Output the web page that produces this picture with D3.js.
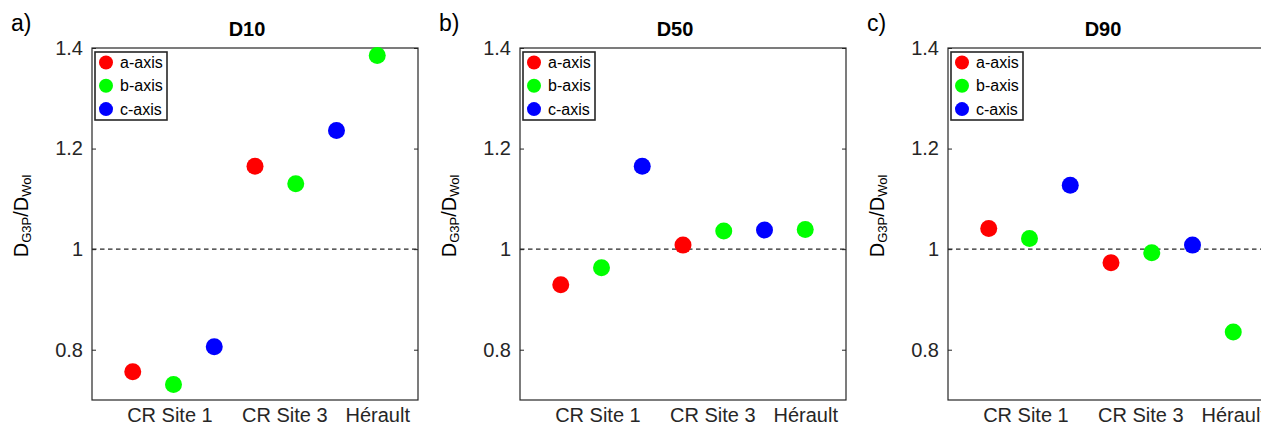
<!DOCTYPE html>
<html><head><meta charset="utf-8">
<script src="https://cdn.jsdelivr.net/npm/d3@7"></script>
<style>body{margin:0;background:#fff;} svg{display:block;font-family:Arial,"Liberation Sans",sans-serif;}</style>
</head><body>
<svg id="chart" width="1261" height="427"></svg>
<script>
const panelTitles = ["D10", "D50", "D90"];
const panelLetters = ["a)", "b)", "c)"];
const siteLabels = ["CR Site 1", "CR Site 3", "Hérault"];
const siteTickPos = [1.9, 4.72, 7];
const seriesNames = ["a-axis", "b-axis", "c-axis"];
const seriesColors = ["#ff0000", "#00ff00", "#0000ff"];
const yTicks = [0.8, 1, 1.2, 1.4];
const yDomain = [0.7, 1.4];
const xDomain = [0, 8];
// each point: x slot, series index, value
const xSlots = [1, 2, 3, 4, 5, 6, 7];
const slotSeries = [0, 1, 2, 0, 1, 2, 1];
const d10Values = [0.756, 0.731, 0.806, 1.165, 1.130, 1.236, 1.385];
const d50Values = [0.929, 0.963, 1.165, 1.008, 1.036, 1.038, 1.039];
const d90Values = [1.041, 1.021, 1.127, 0.973, 0.993, 1.008, 0.835];
const panelValues = [d10Values, d50Values, d90Values];

const svg = d3.select("#chart");
const boxW = 326, boxTop = 48, boxBottom = 400;
const panelLeft = [92, 520, 948];
const axisColor = "#262626";
const FF = "Arial, 'Liberation Sans', sans-serif";

panelValues.forEach((vals, p) => {
  const L = panelLeft[p];
  const x = d3.scaleLinear().domain(xDomain).range([L, L + boxW]);
  const y = d3.scaleLinear().domain(yDomain).range([boxBottom, boxTop]);
  const g = svg.append("g");

  // dashed reference line
  g.append("line").attr("x1", x(xDomain[0])).attr("x2", x(xDomain[1]))
    .attr("y1", y(1)).attr("y2", y(1))
    .attr("stroke", axisColor).attr("stroke-width", 1.2).attr("stroke-dasharray", "4.5,3.5");

  // y axis left
  const yAxL = d3.axisLeft(y).tickValues(yTicks).tickSize(-4).tickPadding(9)
    .tickFormat(d => d === 1 ? "1" : d3.format(".1f")(d));
  const gl = g.append("g").attr("transform", `translate(${L},0)`).call(yAxL);
  gl.select(".domain").remove();
  gl.selectAll("line").attr("stroke", axisColor);
  gl.selectAll("text").attr("fill", axisColor).attr("font-size", 20).attr("font-family", FF);
  // y ticks right
  const yAxR = d3.axisRight(y).tickValues(yTicks).tickSize(-4).tickFormat("");
  const gr = g.append("g").attr("transform", `translate(${L + boxW},0)`).call(yAxR);
  gr.select(".domain").remove();
  gr.selectAll("line").attr("stroke", axisColor);

  // x labels
  const xAx = d3.axisBottom(x).tickValues(siteTickPos).tickSize(0).tickPadding(0)
    .tickFormat((d, i) => siteLabels[i]);
  const gx = g.append("g").attr("transform", `translate(0,${boxBottom})`).call(xAx);
  gx.select(".domain").remove();
  gx.selectAll("text").attr("fill", axisColor).attr("font-size", 20).attr("font-family", FF)
    .attr("dy", null).attr("y", 22);

  // box
  g.append("rect").attr("x", L).attr("y", boxTop).attr("width", boxW).attr("height", boxBottom - boxTop)
    .attr("fill", "none").attr("stroke", axisColor).attr("stroke-width", 1.2);

  // points
  g.selectAll("circle.pt").data(vals).enter().append("circle").attr("class", "pt")
    .attr("cx", (d, i) => x(xSlots[i])).attr("cy", d => y(d)).attr("r", 8.5)
    .attr("fill", (d, i) => seriesColors[slotSeries[i]]);

  // title
  g.append("text").attr("x", L + boxW / 2 - 8).attr("y", 36).attr("text-anchor", "middle")
    .attr("font-size", 20).attr("font-weight", "bold").attr("fill", "#000").text(panelTitles[p]);

  // panel letter
  g.append("text").attr("x", L - 81).attr("y", 31).attr("font-size", 23).attr("fill", "#000")
    .text(panelLetters[p]);

  // y label
  const yl = g.append("text").attr("transform", `translate(${L - 64},216) rotate(-90)`)
    .attr("text-anchor", "middle").attr("font-size", 20).attr("fill", "#000");
  yl.append("tspan").text("D");
  yl.append("tspan").attr("font-size", 13).attr("dy", 3).text("G3P");
  yl.append("tspan").attr("dy", -3).text("/D");
  yl.append("tspan").attr("font-size", 13).attr("dy", 3).text("Wol");

  // legend
  const lg = g.append("g").attr("transform", `translate(${L + 3},${boxTop + 4})`);
  lg.append("rect").attr("width", 72).attr("height", 68).attr("fill", "#fff")
    .attr("stroke", axisColor).attr("stroke-width", 1.6);
  seriesNames.forEach((s, i) => {
    lg.append("circle").attr("cx", 11).attr("cy", 10.5 + i * 23.3).attr("r", 7).attr("fill", seriesColors[i]);
    lg.append("text").attr("x", 25).attr("y", 16 + i * 23.3).attr("font-size", 16).attr("fill", "#000").text(s);
  });
});
</script>
</body></html>
